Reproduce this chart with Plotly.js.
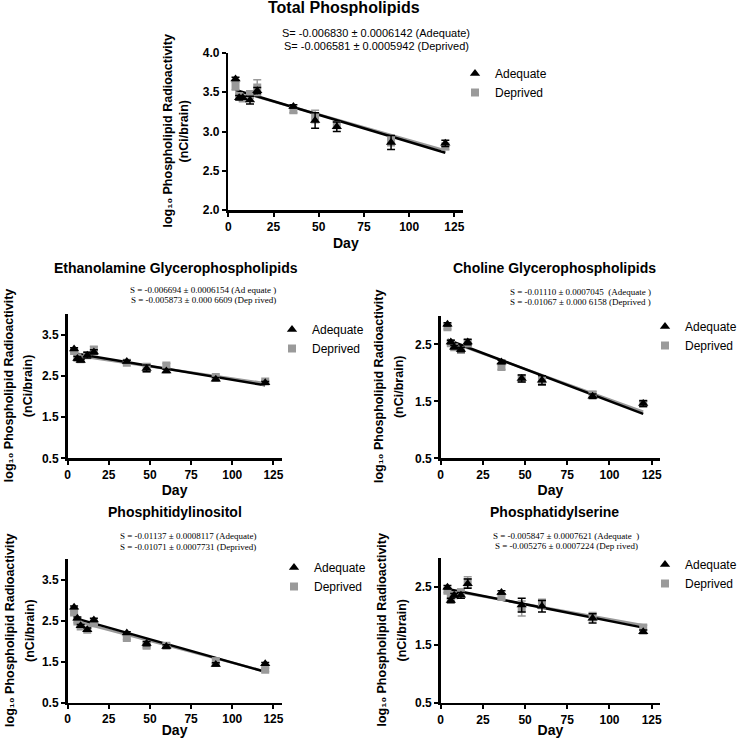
<!DOCTYPE html>
<html>
<head>
<meta charset="utf-8">
<script src="https://cdn.plot.ly/plotly-3.0.1.min.js"></script>
<style>html,body{margin:0;padding:0;background:#fff}#chart{width:737px;height:738px}</style>
</head>
<body>
<div id="chart"></div>
<script>
// ---- data ----
const days = [4, 6, 8, 12, 16, 36, 48, 60, 90, 120];
const fitDays = [4, 120];

const totalAdequate    = [3.67, 3.43, 3.43, 3.40, 3.52, 3.32, 3.14, 3.06, 2.86, 2.85];
const totalAdequateErr = [0.02, 0.03, 0.02, 0.05, 0.04, 0.02, 0.10, 0.06, 0.09, 0.04];
const totalDeprived    = [3.58, 3.45, 3.42, 3.47, 3.56, 3.27, 3.19, 3.08, 2.88, 2.81];
const totalDeprivedErr = [0.05, 0.04, 0.03, 0.05, 0.10, 0.03, 0.08, 0.04, 0.06, 0.04];
const totalFitAdequate = [3.53, 2.73];
const totalFitDeprived = [3.52, 2.76];

const egpAdequate    = [3.15, 2.92, 2.87, 3.00, 3.08, 2.85, 2.68, 2.62, 2.42, 2.33];
const egpAdequateErr = [0.03, 0.05, 0.03, 0.07, 0.05, 0.03, 0.08, 0.04, 0.04, 0.03];
const egpDeprived    = [3.10, 2.95, 2.90, 3.00, 3.12, 2.82, 2.70, 2.75, 2.47, 2.36];
const egpDeprivedErr = [0.03, 0.04, 0.03, 0.05, 0.10, 0.04, 0.10, 0.05, 0.04, 0.03];
const egpFitAdequate = [3.05, 2.27];
const egpFitDeprived = [3.00, 2.32];

const cgpAdequate    = [2.85, 2.54, 2.45, 2.41, 2.54, 2.19, 1.90, 1.87, 1.59, 1.46];
const cgpAdequateErr = [0.03, 0.03, 0.03, 0.04, 0.05, 0.03, 0.06, 0.08, 0.04, 0.05];
const cgpDeprived    = [2.80, 2.52, 2.45, 2.40, 2.52, 2.10, 1.90, 1.85, 1.62, 1.46];
const cgpDeprivedErr = [0.03, 0.03, 0.03, 0.03, 0.06, 0.04, 0.06, 0.07, 0.05, 0.04];
const cgpFitAdequate = [2.58, 1.28];
const cgpFitDeprived = [2.56, 1.32];

const piAdequate    = [2.83, 2.56, 2.38, 2.28, 2.52, 2.20, 1.94, 1.87, 1.43, 1.45];
const piAdequateErr = [0.03, 0.03, 0.03, 0.04, 0.04, 0.03, 0.05, 0.04, 0.04, 0.03];
const piDeprived    = [2.70, 2.48, 2.36, 2.28, 2.44, 2.08, 1.89, 1.89, 1.51, 1.30];
const piDeprivedErr = [0.04, 0.03, 0.03, 0.03, 0.04, 0.04, 0.05, 0.04, 0.07, 0.04];
const piFitAdequate = [2.57, 1.25];
const piFitDeprived = [2.50, 1.26];

const psAdequate    = [2.50, 2.27, 2.36, 2.36, 2.56, 2.41, 2.19, 2.17, 1.96, 1.73];
const psAdequateErr = [0.03, 0.04, 0.03, 0.05, 0.08, 0.03, 0.12, 0.10, 0.08, 0.03];
const psDeprived    = [2.44, 2.33, 2.36, 2.41, 2.59, 2.33, 2.13, 2.21, 1.99, 1.80];
const psDeprivedErr = [0.03, 0.04, 0.03, 0.06, 0.09, 0.04, 0.13, 0.08, 0.07, 0.04];
const psFitAdequate = [2.47, 1.80];
const psFitDeprived = [2.45, 1.84];

const panelTitles = ['Total Phospholipids', 'Ethanolamine Glycerophospholipids',
  'Choline Glycerophospholipids', 'Phosphitidylinositol', 'Phosphatidylserine'];
const slopeTexts = [
  ['S= -0.006830 ± 0.0006142 (Adequate)', 'S= -0.006581 ± 0.0005942 (Deprived)'],
  ['S = -0.006694 ± 0.0006154 (Ad equate )', 'S = -0.005873 ± 0.000 6609 (Dep rived)'],
  ['S = -0.01110 ± 0.0007045  (Adequate )', 'S = -0.01067 ± 0.000 6158 (Deprived )'],
  ['S = -0.01137 ± 0.0008117 (Adequate)', 'S = -0.01071 ± 0.0007731 (Deprived)'],
  ['S = -0.005847 ± 0.0007621 (Adequate  )', 'S = -0.005276 ± 0.0007224 (Dep rived)']
];
const seriesNames = ['Adequate', 'Deprived'];
const xTickVals = [0, 25, 50, 75, 100, 125];
const xTitle = 'Day';
const yTitleLines = ['log\u2081\u2080 Phospholipid Radioactivity', '(nCi/brain)'];

// ---- layout geometry (pixels) ----
const W = 737, H = 738;
const px = v => v / W, py = v => 1 - v / H;
const SANS = 'Liberation Sans, Arial, sans-serif';
const SERIF = 'Liberation Serif, Times New Roman, serif';
const panels = [
  {a: totalAdequate, ae: totalAdequateErr, d: totalDeprived, de: totalDeprivedErr, fa: totalFitAdequate, fd: totalFitDeprived,
   x0: 228.3, x1: 463.4, yTop: 53, yBot: 210, yr: [2.0, 4.0], dtick: 0.5, tick0: 2.0,
   title: [344, 8, 16], slope: [376, 33, 46, SANS, 11], yt: [167, 183], xs: 6, leg: [455, 59]},
  {a: egpAdequate, ae: egpAdequateErr, d: egpDeprived, de: egpDeprivedErr, fa: egpFitAdequate, fd: egpFitDeprived,
   x0: 67.5, x1: 281.7, yTop: 314, yBot: 458.3, yr: [0.5, 4.0], dtick: 1, tick0: 0.5,
   title: [176, 268, 14], slope: [203, 290, 300, SERIF, 9], yt: [9, 28], xs: 2, leg: [272, 315]},
  {a: cgpAdequate, ae: cgpAdequateErr, d: cgpDeprived, de: cgpDeprivedErr, fa: cgpFitAdequate, fd: cgpFitDeprived,
   x0: 440.7, x1: 660.1, yTop: 315.8, yBot: 458.3, yr: [0.5, 3.0], dtick: 1, tick0: 0.5,
   title: [554, 268, 14], slope: [580, 292, 302, SERIF, 9], yt: [379, 399], xs: 2, leg: [645, 312]},
  {a: piAdequate, ae: piAdequateErr, d: piDeprived, de: piDeprivedErr, fa: piFitAdequate, fd: piFitDeprived,
   x0: 67.5, x1: 281.7, yTop: 559.4, yBot: 702.5, yr: [0.5, 4.0], dtick: 1, tick0: 0.5,
   title: [175, 512, 14], slope: [188, 536, 547, SERIF, 9], yt: [10, 30], xs: 1, leg: [274, 553]},
  {a: psAdequate, ae: psAdequateErr, d: psDeprived, de: psDeprivedErr, fa: psFitAdequate, fd: psFitDeprived,
   x0: 440.7, x1: 660.1, yTop: 558.3, yBot: 702.7, yr: [0.5, 3.0], dtick: 1, tick0: 0.5,
   title: [554, 512, 14], slope: [566, 536, 546, SERIF, 9], yt: [381, 401], xs: 1, leg: [645, 550]}
];

const GRAY = '#9a9a9a';
const traces = [];
const layout = {
  width: W, height: H, margin: {l: 0, r: 0, t: 0, b: 0, autoexpand: false},
  paper_bgcolor: '#fff', plot_bgcolor: '#fff',
  font: {family: SANS, color: '#000'},
  annotations: [], showlegend: true
};

panels.forEach((p, i) => {
  const n = i === 0 ? '' : String(i + 1);
  const xa = 'x' + n, ya = 'y' + n;
  const legId = 'legend' + n;
  traces.push({
    x: fitDays, y: p.fd, xaxis: xa, yaxis: ya, mode: 'lines', showlegend: false,
    line: {color: GRAY, width: 2.5}, hoverinfo: 'skip'
  });
  traces.push({
    x: fitDays, y: p.fa, xaxis: xa, yaxis: ya, mode: 'lines', showlegend: false,
    line: {color: '#000', width: 2.5}, hoverinfo: 'skip'
  });
  traces.push({
    x: days, y: p.d, xaxis: xa, yaxis: ya, mode: 'markers', name: seriesNames[1], legend: legId,
    marker: {symbol: 'square', size: 8, color: GRAY},
    error_y: {type: 'data', array: p.de, color: GRAY, thickness: 1.5, width: 4}
  });
  traces.push({
    x: days, y: p.a, xaxis: xa, yaxis: ya, mode: 'markers', name: seriesNames[0], legend: legId,
    marker: {symbol: 'triangle-up', size: 9, color: '#000'},
    error_y: {type: 'data', array: p.ae, color: '#000', thickness: 1.5, width: 4}
  });
  const axCommon = {
    showline: true, linecolor: '#000', linewidth: 2.5, showgrid: false, zeroline: false,
    ticks: 'outside', ticklen: 4, tickwidth: 2, tickcolor: '#000',
    tickfont: {family: SANS, size: 12, color: '#000', weight: 'bold'}, fixedrange: true
  };
  layout['xaxis' + n] = Object.assign({}, axCommon, {
    domain: [px(p.x0), px(p.x1)], range: [0, 130], anchor: ya,
    tickmode: 'array', tickvals: xTickVals,
    title: {text: '<b>' + xTitle + '</b>', font: {family: SANS, size: 14, color: '#000'}, standoff: p.xs}
  });
  layout['yaxis' + n] = Object.assign({}, axCommon, {
    domain: [py(p.yBot), py(p.yTop)], range: p.yr, anchor: xa,
    tickmode: 'linear', tick0: p.tick0, dtick: p.dtick, tickformat: '.1f'
  });
  layout[legId] = {
    xref: 'container', yref: 'container',
    x: px(p.leg[0]), y: py(p.leg[1]), xanchor: 'left', yanchor: 'top',
    bgcolor: 'rgba(0,0,0,0)', borderwidth: 0, traceorder: 'reversed',
    font: {family: SANS, size: 12, color: '#000'}
  };
  layout.annotations.push({
    text: '<b>' + panelTitles[i] + '</b>', xref: 'paper', yref: 'paper',
    x: px(p.title[0]), y: py(p.title[1]), xanchor: 'center', yanchor: 'middle', showarrow: false,
    font: {family: SANS, size: p.title[2], color: '#000'}
  });
  [1, 2].forEach(k => layout.annotations.push({
    text: slopeTexts[i][k - 1], xref: 'paper', yref: 'paper',
    x: px(p.slope[0]), y: py(p.slope[k]), xanchor: 'center', yanchor: 'middle', showarrow: false,
    font: {family: p.slope[3], size: p.slope[4], color: '#000'}
  }));
  [0, 1].forEach(k => layout.annotations.push({
    text: '<b>' + yTitleLines[k] + '</b>', xref: 'paper', yref: 'paper', textangle: -90,
    x: px(p.yt[k]), y: py((p.yTop + p.yBot) / 2), xanchor: 'center', yanchor: 'middle', showarrow: false,
    font: {family: SANS, size: 12.5, color: '#000'}
  }));
});

Plotly.newPlot('chart', traces, layout, {staticPlot: true, displayModeBar: false});
</script>
</body>
</html>
